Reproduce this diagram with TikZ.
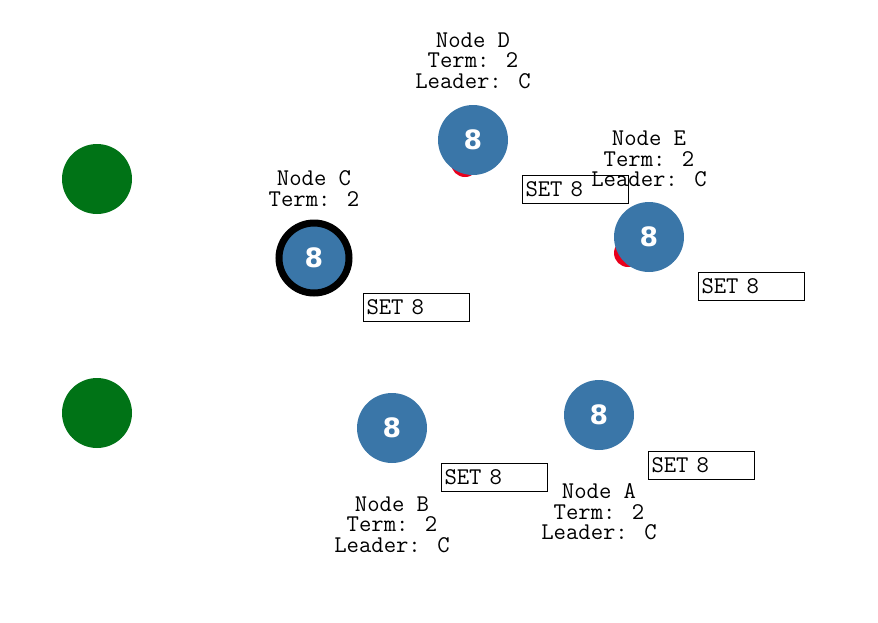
\documentclass[tikz,border=0pt]{standalone}
\usepackage{fontspec}
\newfontfamily\digitfont{DejaVu Sans}
\usetikzlibrary{positioning}
\definecolor{srvblue}{RGB}{58,118,168}
\definecolor{clientgreen}{RGB}{0,115,22}
\definecolor{msgred}{RGB}{232,0,28}

\begin{document}
\begin{tikzpicture}[
    x=0.75pt, y=-0.75pt,
    server/.style={circle, fill=srvblue, minimum size=52.5pt, inner sep=0pt, outer sep=0pt, text=white, font=\digitfont\bfseries\fontsize{20}{24}\selectfont},
    leader/.style={server, draw=black, line width=5.25pt},
    client/.style={circle, fill=clientgreen, minimum size=52.5pt, inner sep=0pt, outer sep=0pt},
    inflight/.style={circle, fill=msgred, minimum size=21pt, inner sep=0pt},
    info/.style={align=center, inner sep=0pt, font=\ttfamily\fontsize{18}{15.5}\selectfont},
    setbox/.style={draw, line width=0.75pt, anchor=north west, minimum width=79.5pt, minimum height=21pt, text width=75pt, inner xsep=2.25pt, inner ysep=0pt, align=left, font=\ttfamily\fontsize{18}{18}\selectfont},
    node distance=12pt
    ]
    \useasboundingbox (0,0) rectangle (878,622);

    % Clients
    \node[client] (clientTop) at (97,179) {};
    \node[client] (clientBot) at (97,413) {};

    % Messages in flight
    \node[inflight] (msgD) at (465,163) {};
    \node[inflight] (msgE) at (628,253) {};

    % Servers
    \node[server] (nodeD) at (473,140) {8};
    \node[server] (nodeE) at (649,237) {8};
    \node[leader] (nodeC) at (314,258) {8};
    \node[server] (nodeB) at (392,428) {8};
    \node[server] (nodeA) at (599,415) {8};

    % Server state
    \node[info, above=of nodeD] (infoD) {Node D\\Term: 2\\Leader: C};
    \node[info, above=11pt of nodeE] (infoE) {Node E\\Term: 2\\Leader: C};
    \node[info, above=of nodeC] (infoC) {Node C\\Term: 2};
    \node[info, below=25pt of nodeB] (infoB) {Node B\\Term: 2\\Leader: C};
    \node[info, below=25pt of nodeA] (infoA) {Node A\\Term: 2\\Leader: C};

    % Log entries
    \node[setbox] (setD) at (522,175) {SET 8};
    \node[setbox] (setE) at (698,272) {SET 8};
    \node[setbox] (setC) at (363,293) {SET 8};
    \node[setbox] (setB) at (441,463) {SET 8};
    \node[setbox] (setA) at (648,451) {SET 8};

\end{tikzpicture}
\end{document}
